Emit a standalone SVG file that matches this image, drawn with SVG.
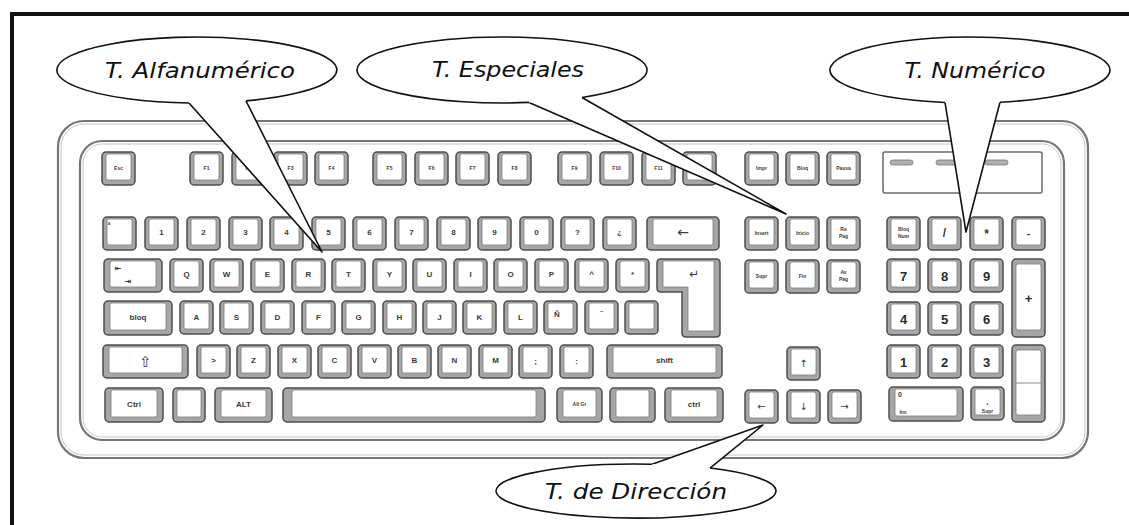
<svg xmlns="http://www.w3.org/2000/svg" width="1129" height="525" viewBox="0 0 1129 525">
<style>
.ko{fill:#a6a6a6;stroke:#4d4d4d;stroke-width:1.5}
.ki{fill:#fff;stroke:#7d7d7d;stroke-width:0.8}
.kl{font-family:"Liberation Sans",Arial,sans-serif;font-weight:bold;font-size:8px;fill:#3a3a3a;text-anchor:middle}
.ks{font-size:5px}
.kn{font-size:13px;fill:#2a2a2a}
.ar{font-family:"DejaVu Sans",sans-serif}
.body{fill:#fff;stroke:#767676;stroke-width:2.2}
.body2{fill:none;stroke:#c4c4c4;stroke-width:1}
.bub{fill:#fff;stroke:#111;stroke-width:1.6;stroke-linejoin:round}
.cal{font-family:"DejaVu Sans",sans-serif;font-style:italic;font-size:22px;fill:#111;text-anchor:middle}
</style>
<defs>
<g id="k"><rect class="ko" x="0" y="0" width="33" height="33" rx="4"/><rect class="ki" x="4" y="2" width="25" height="26" rx="2"/></g>
</defs>
<rect x="0" y="0" width="1129" height="525" fill="#fff"/>
<path d="M12,525 V14 H1129" fill="none" stroke="#111" stroke-width="4"/>

<g id="keyboard">
<rect class="body" x="58" y="121" width="1030" height="337" rx="26"/>
<rect class="body2" x="61" y="124" width="1024" height="331" rx="23"/>
<rect class="body" x="80" y="141" width="984" height="299" rx="22"/>
<rect class="body2" x="83" y="144" width="978" height="293" rx="19"/>

<!-- function row -->
<g id="key-esc"><use href="#k" x="102" y="152"/><text class="kl ks" x="118.5" y="170">Esc</text></g>
<g id="key-f1"><use href="#k" x="190" y="152"/><text class="kl ks" x="206.5" y="170">F1</text></g>
<g id="key-f2"><use href="#k" x="232" y="152"/><text class="kl ks" x="248.5" y="170">F2</text></g>
<g id="key-f3"><use href="#k" x="274" y="152"/><text class="kl ks" x="290.5" y="170">F3</text></g>
<g id="key-f4"><use href="#k" x="315" y="152"/><text class="kl ks" x="331.5" y="170">F4</text></g>
<g id="key-f5"><use href="#k" x="373" y="152"/><text class="kl ks" x="389.5" y="170">F5</text></g>
<g id="key-f6"><use href="#k" x="415" y="152"/><text class="kl ks" x="431.5" y="170">F6</text></g>
<g id="key-f7"><use href="#k" x="456" y="152"/><text class="kl ks" x="472.5" y="170">F7</text></g>
<g id="key-f8"><use href="#k" x="498" y="152"/><text class="kl ks" x="514.5" y="170">F8</text></g>
<g id="key-f9"><use href="#k" x="558" y="152"/><text class="kl ks" x="574.5" y="170">F9</text></g>
<g id="key-f10"><use href="#k" x="600" y="152"/><text class="kl ks" x="616.5" y="170">F10</text></g>
<g id="key-f11"><use href="#k" x="642" y="152"/><text class="kl ks" x="658.5" y="170">F11</text></g>
<g id="key-f12"><use href="#k" x="683" y="152"/><text class="kl ks" x="699.5" y="170">F12</text></g>
<g id="key-impr"><use href="#k" x="745" y="152"/><text class="kl ks" x="761.5" y="170">Impr</text></g>
<g id="key-bloq"><use href="#k" x="786" y="152"/><text class="kl ks" x="802.5" y="170">Bloq</text></g>
<g id="key-pausa"><use href="#k" x="827" y="152"/><text class="kl ks" x="843.5" y="170">Pausa</text></g>
<g id="leds">
<rect x="883" y="152" width="159" height="41" rx="2" fill="#fff" stroke="#6a6a6a" stroke-width="1.5"/>
<rect x="890" y="160" width="23" height="5" rx="2.5" fill="#b0b0b0" stroke="#777" stroke-width="0.8"/>
<rect x="936" y="160" width="22" height="5" rx="2.5" fill="#b0b0b0" stroke="#777" stroke-width="0.8"/>
<rect x="985" y="160" width="23" height="5" rx="2.5" fill="#b0b0b0" stroke="#777" stroke-width="0.8"/>
</g>

<!-- number row -->
<g id="key-ord"><use href="#k" x="103" y="217"/><text class="kl" x="109" y="227" style="font-size:7px">ª</text></g>
<g id="key-1"><use href="#k" x="145" y="217"/><text class="kl" x="161.5" y="235">1</text></g>
<g id="key-2"><use href="#k" x="187" y="217"/><text class="kl" x="203.5" y="235">2</text></g>
<g id="key-3"><use href="#k" x="229" y="217"/><text class="kl" x="245.5" y="235">3</text></g>
<g id="key-4"><use href="#k" x="270" y="217"/><text class="kl" x="286.5" y="235">4</text></g>
<g id="key-5"><use href="#k" x="312" y="217"/><text class="kl" x="328.5" y="235">5</text></g>
<g id="key-6"><use href="#k" x="353" y="217"/><text class="kl" x="369.5" y="235">6</text></g>
<g id="key-7"><use href="#k" x="395" y="217"/><text class="kl" x="411.5" y="235">7</text></g>
<g id="key-8"><use href="#k" x="437" y="217"/><text class="kl" x="453.5" y="235">8</text></g>
<g id="key-9"><use href="#k" x="478" y="217"/><text class="kl" x="494.5" y="235">9</text></g>
<g id="key-0"><use href="#k" x="520" y="217"/><text class="kl" x="536.5" y="235">0</text></g>
<g id="key-q1"><use href="#k" x="561" y="217"/><text class="kl" x="577.5" y="235">?</text></g>
<g id="key-q2"><use href="#k" x="603" y="217"/><text class="kl" x="619.5" y="235">¿</text></g>
<g id="key-back"><rect class="ko" x="647" y="217" width="72" height="33" rx="4"/><rect class="ki" x="653" y="219" width="60" height="26" rx="2"/><text class="kl ar" x="683" y="237" style="font-size:14px;font-weight:normal">←</text></g>
<g id="key-ins"><use href="#k" x="745" y="217"/><text class="kl ks" x="761.5" y="235">Insert</text></g>
<g id="key-ini"><use href="#k" x="786" y="217"/><text class="kl ks" x="802.5" y="235">Inicio</text></g>
<g id="key-repag"><use href="#k" x="827" y="217"/><text class="kl ks" x="843.5" y="231">Re</text><text class="kl ks" x="843.5" y="238">Pág</text></g>
<g id="key-bloqnum"><use href="#k" x="887" y="217"/><text class="kl ks" x="903.5" y="231">Bloq</text><text class="kl ks" x="903.5" y="238">Num</text></g>
<g id="key-div"><use href="#k" x="928" y="217"/><text class="kl" x="944.5" y="237" style="font-size:12px">/</text></g>
<g id="key-mul"><use href="#k" x="970" y="217"/><text class="kl" x="986.5" y="238" style="font-size:12px">*</text></g>
<g id="key-sub"><use href="#k" x="1012" y="217"/><text class="kl" x="1028.5" y="237" style="font-size:11px">-</text></g>

<!-- qwerty row -->
<g id="key-tab"><rect class="ko" x="104" y="259" width="58" height="33" rx="4"/><rect class="ki" x="110" y="261" width="46" height="26" rx="2"/><text class="kl ar" x="118" y="271" style="font-size:8px">⇤</text><text class="kl ar" x="128" y="284" style="font-size:8px">⇥</text></g>
<g id="key-Q"><use href="#k" x="170" y="259"/><text class="kl" x="186.5" y="277">Q</text></g>
<g id="key-W"><use href="#k" x="210" y="259"/><text class="kl" x="226.5" y="277">W</text></g>
<g id="key-E"><use href="#k" x="251" y="259"/><text class="kl" x="267.5" y="277">E</text></g>
<g id="key-R"><use href="#k" x="292" y="259"/><text class="kl" x="308.5" y="277">R</text></g>
<g id="key-T"><use href="#k" x="332" y="259"/><text class="kl" x="348.5" y="277">T</text></g>
<g id="key-Y"><use href="#k" x="373" y="259"/><text class="kl" x="389.5" y="277">Y</text></g>
<g id="key-U"><use href="#k" x="413" y="259"/><text class="kl" x="429.5" y="277">U</text></g>
<g id="key-I"><use href="#k" x="454" y="259"/><text class="kl" x="470.5" y="277">I</text></g>
<g id="key-O"><use href="#k" x="494" y="259"/><text class="kl" x="510.5" y="277">O</text></g>
<g id="key-P"><use href="#k" x="535" y="259"/><text class="kl" x="551.5" y="277">P</text></g>
<g id="key-circ"><use href="#k" x="575" y="259"/><text class="kl" x="591.5" y="277">^</text></g>
<g id="key-ast"><use href="#k" x="616" y="259"/><text class="kl" x="632.5" y="277">*</text></g>
<g id="key-enter"><path class="ko" d="M661,259 H716 Q720,259 720,263 V333 Q720,337 716,337 H686 Q682,337 682,333 V292 H661 Q657,292 657,288 V263 Q657,259 661,259 Z"/><path class="ki" d="M663,261 H714 V331 H688 V287 H663 Z"/><text class="kl ar" x="694" y="278" style="font-size:12px;font-weight:normal">↵</text></g>
<g id="key-supr"><use href="#k" x="745" y="260"/><text class="kl ks" x="761.5" y="278">Supr</text></g>
<g id="key-fin"><use href="#k" x="786" y="260"/><text class="kl ks" x="802.5" y="278">Fin</text></g>
<g id="key-avpag"><use href="#k" x="827" y="260"/><text class="kl ks" x="843.5" y="274">Av</text><text class="kl ks" x="843.5" y="281">Pág</text></g>
<g id="key-n7"><use href="#k" x="887" y="259"/><text class="kl kn" x="903.5" y="281">7</text></g>
<g id="key-n8"><use href="#k" x="928" y="259"/><text class="kl kn" x="944.5" y="281">8</text></g>
<g id="key-n9"><use href="#k" x="970" y="259"/><text class="kl kn" x="986.5" y="281">9</text></g>
<g id="key-add"><rect class="ko" x="1012" y="259" width="33" height="78" rx="4"/><rect class="ki" x="1016" y="264" width="25" height="66" rx="2"/><text class="kl kn" x="1028.5" y="303">+</text></g>

<!-- home row -->
<g id="key-caps"><rect class="ko" x="104" y="301" width="68" height="34" rx="4"/><rect class="ki" x="110" y="303" width="56" height="27" rx="2"/><text class="kl" x="138" y="320">bloq</text></g>
<g id="key-A"><use href="#k" x="180" y="301"/><text class="kl" x="196.5" y="320">A</text></g>
<g id="key-S"><use href="#k" x="220" y="301"/><text class="kl" x="236.5" y="320">S</text></g>
<g id="key-D"><use href="#k" x="261" y="301"/><text class="kl" x="277.5" y="320">D</text></g>
<g id="key-F"><use href="#k" x="302" y="301"/><text class="kl" x="318.5" y="320">F</text></g>
<g id="key-G"><use href="#k" x="342" y="301"/><text class="kl" x="358.5" y="320">G</text></g>
<g id="key-H"><use href="#k" x="383" y="301"/><text class="kl" x="399.5" y="320">H</text></g>
<g id="key-J"><use href="#k" x="423" y="301"/><text class="kl" x="439.5" y="320">J</text></g>
<g id="key-K"><use href="#k" x="463" y="301"/><text class="kl" x="479.5" y="320">K</text></g>
<g id="key-L"><use href="#k" x="504" y="301"/><text class="kl" x="520.5" y="320">L</text></g>
<g id="key-NN"><use href="#k" x="544" y="301"/><text class="kl" x="557" y="317">Ñ</text></g>
<g id="key-diaer"><use href="#k" x="585" y="301"/><text class="kl" x="601.5" y="316">¨</text></g>
<g id="key-blank1"><use href="#k" x="625" y="301"/></g>
<g id="key-n4"><use href="#k" x="887" y="302"/><text class="kl kn" x="903.5" y="324">4</text></g>
<g id="key-n5"><use href="#k" x="928" y="302"/><text class="kl kn" x="944.5" y="324">5</text></g>
<g id="key-n6"><use href="#k" x="970" y="302"/><text class="kl kn" x="986.5" y="324">6</text></g>

<!-- bottom letter row -->
<g id="key-shiftl"><rect class="ko" x="103" y="345" width="85" height="33" rx="4"/><rect class="ki" x="109" y="347" width="73" height="26" rx="2"/><text class="kl ar" x="145.5" y="367" style="font-size:15px;font-weight:normal">⇧</text></g>
<g id="key-gt"><use href="#k" x="197" y="345"/><text class="kl" x="213.5" y="363">&gt;</text></g>
<g id="key-Z"><use href="#k" x="237" y="345"/><text class="kl" x="253.5" y="363">Z</text></g>
<g id="key-X"><use href="#k" x="278" y="345"/><text class="kl" x="294.5" y="363">X</text></g>
<g id="key-C"><use href="#k" x="318" y="345"/><text class="kl" x="334.5" y="363">C</text></g>
<g id="key-V"><use href="#k" x="358" y="345"/><text class="kl" x="374.5" y="363">V</text></g>
<g id="key-B"><use href="#k" x="398" y="345"/><text class="kl" x="414.5" y="363">B</text></g>
<g id="key-N"><use href="#k" x="438" y="345"/><text class="kl" x="454.5" y="363">N</text></g>
<g id="key-M"><use href="#k" x="479" y="345"/><text class="kl" x="495.5" y="363">M</text></g>
<g id="key-semi"><use href="#k" x="519" y="345"/><text class="kl" x="535.5" y="364">;</text></g>
<g id="key-colon"><use href="#k" x="560" y="345"/><text class="kl" x="576.5" y="364">:</text></g>
<g id="key-shiftr"><rect class="ko" x="607" y="345" width="115" height="33" rx="4"/><rect class="ki" x="613" y="347" width="103" height="26" rx="2"/><text class="kl" x="664.5" y="363">shift</text></g>
<g id="key-up"><use href="#k" x="787" y="347"/><text class="kl ar" x="803.5" y="367" style="font-size:10px;font-weight:normal">↑</text></g>
<g id="key-n1"><use href="#k" x="887" y="345"/><text class="kl kn" x="903.5" y="367">1</text></g>
<g id="key-n2"><use href="#k" x="928" y="345"/><text class="kl kn" x="944.5" y="367">2</text></g>
<g id="key-n3"><use href="#k" x="970" y="345"/><text class="kl kn" x="986.5" y="367">3</text></g>
<g id="key-nenter"><rect class="ko" x="1012" y="345" width="33" height="77" rx="4"/><rect class="ki" x="1016" y="350" width="25" height="65" rx="2"/><line x1="1016" y1="383" x2="1041" y2="383" stroke="#8a8a8a" stroke-width="1"/></g>

<!-- space row -->
<g id="key-ctrll"><rect class="ko" x="105" y="388" width="58" height="34" rx="4"/><rect class="ki" x="111" y="390" width="46" height="27" rx="2"/><text class="kl" x="134" y="407">Ctrl</text></g>
<g id="key-win"><rect class="ko" x="173" y="388" width="32" height="34" rx="4"/><rect class="ki" x="177" y="390" width="24" height="27" rx="2"/></g>
<g id="key-alt"><rect class="ko" x="215" y="388" width="57" height="34" rx="4"/><rect class="ki" x="221" y="390" width="45" height="27" rx="2"/><text class="kl" x="243.5" y="407">ALT</text></g>
<g id="key-space"><rect class="ko" x="283" y="388" width="262" height="34" rx="4"/><rect class="ki" x="292" y="390" width="244" height="27" rx="2"/></g>
<g id="key-altgr"><rect class="ko" x="557" y="388" width="45" height="34" rx="4"/><rect class="ki" x="563" y="390" width="33" height="27" rx="2"/><text class="kl ks" x="579.5" y="406">Alt Gr</text></g>
<g id="key-menu"><rect class="ko" x="610" y="388" width="45" height="34" rx="4"/><rect class="ki" x="616" y="390" width="33" height="27" rx="2"/></g>
<g id="key-ctrlr"><rect class="ko" x="665" y="388" width="58" height="34" rx="4"/><rect class="ki" x="671" y="390" width="46" height="27" rx="2"/><text class="kl" x="694" y="407">ctrl</text></g>
<g id="key-left"><use href="#k" x="745" y="390"/><text class="kl ar" x="761.5" y="410" style="font-size:10px;font-weight:normal">←</text></g>
<g id="key-down"><use href="#k" x="787" y="390"/><text class="kl ar" x="803.5" y="410" style="font-size:10px;font-weight:normal">↓</text></g>
<g id="key-right"><use href="#k" x="828" y="390"/><text class="kl ar" x="844.5" y="410" style="font-size:10px;font-weight:normal">→</text></g>
<g id="key-n0"><rect class="ko" x="889" y="387" width="74" height="34" rx="4"/><rect class="ki" x="895" y="389" width="62" height="27" rx="2"/><text class="kl" x="900" y="397" style="font-size:7px">0</text><text class="kl ks" x="903" y="414">Ins</text></g>
<g id="key-ndot"><use href="#k" x="971" y="387"/><text class="kl" x="987.5" y="405" style="font-size:9px">.</text><text class="kl ks" x="987.5" y="413">Supr</text></g>
</g>

<g id="connectors">
<path class="bub" d="M189,102.95 L322,252 L246,100.9"/>
<path class="bub" d="M529,102.42 L786,214 L582,97.52"/>
<path class="bub" d="M945,102.47 L966,232 L1000,102.23"/>
<path class="bub" d="M652,464.18 L763,425 L710,468.08"/>
</g>

<g id="callout-alfanumerico">
<path class="bub" d="M246,100.9 A140,33 0 1 0 189,102.95"/>
<text class="cal" x="200" y="78" textLength="190" lengthAdjust="spacingAndGlyphs">T. Alfanumérico</text>
</g>
<g id="callout-especiales">
<path class="bub" d="M582,97.52 A145,33 0 1 0 529,102.42"/>
<text class="cal" x="508" y="77" textLength="152" lengthAdjust="spacingAndGlyphs">T. Especiales</text>
</g>
<g id="callout-numerico">
<path class="bub" d="M1000,102.23 A140,33 0 1 0 945,102.47"/>
<text class="cal" x="975" y="78" textLength="141" lengthAdjust="spacingAndGlyphs">T. Numérico</text>
</g>
<g id="callout-direccion">
<path class="bub" d="M710,468.08 A140,27 0 1 1 652,464.18"/>
<text class="cal" x="636" y="499" textLength="182" lengthAdjust="spacingAndGlyphs">T. de Dirección</text>
</g>
</svg>
